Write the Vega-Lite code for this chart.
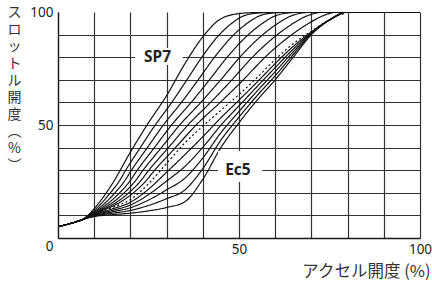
{
"$schema":"https://vega.github.io/schema/vega-lite/v6.json",
"width":362,"height":226,
"autosize":{"type":"none"},
"padding":{"left":58,"top":12,"right":12,"bottom":44},
"config":{"view":{"stroke":null},"font":"Noto Sans"},
"datasets":{
"curves":[
{"s":"D","k":"dashed","x":0,"y":5},{"s":"D","k":"dashed","x":5,"y":7.2},{"s":"D","k":"dashed","x":7,"y":8.3},{"s":"D","k":"dashed","x":10,"y":10.5},{"s":"D","k":"dashed","x":15,"y":13.5},{"s":"D","k":"dashed","x":20,"y":17},{"s":"D","k":"dashed","x":25,"y":24},{"s":"D","k":"dashed","x":30,"y":33},{"s":"D","k":"dashed","x":35,"y":42},{"s":"D","k":"dashed","x":40,"y":49.5},{"s":"D","k":"dashed","x":45,"y":56.5},{"s":"D","k":"dashed","x":50,"y":63.5},{"s":"D","k":"dashed","x":55,"y":71},{"s":"D","k":"dashed","x":60,"y":79},{"s":"D","k":"dashed","x":65,"y":86},{"s":"D","k":"dashed","x":70,"y":91.5},{"s":"D","k":"dashed","x":75,"y":96.5},{"s":"D","k":"dashed","x":80,"y":100},
{"s":"SP7","k":"solid","x":0,"y":5},{"s":"SP7","k":"solid","x":5,"y":7.2},{"s":"SP7","k":"solid","x":7,"y":8.3},{"s":"SP7","k":"solid","x":10,"y":13},{"s":"SP7","k":"solid","x":15,"y":24},{"s":"SP7","k":"solid","x":20,"y":38},{"s":"SP7","k":"solid","x":25,"y":51},{"s":"SP7","k":"solid","x":30,"y":63},{"s":"SP7","k":"solid","x":35,"y":77},{"s":"SP7","k":"solid","x":40,"y":89},{"s":"SP7","k":"solid","x":45,"y":97},{"s":"SP7","k":"solid","x":50,"y":99.3},{"s":"SP7","k":"solid","x":55,"y":99.8},{"s":"SP7","k":"solid","x":60,"y":100},{"s":"SP7","k":"solid","x":100,"y":100},
{"s":"SP1","k":"solid","x":0,"y":5},{"s":"SP1","k":"solid","x":5,"y":7.2},{"s":"SP1","k":"solid","x":7,"y":8.3},{"s":"SP1","k":"solid","x":9.13,"y":10},{"s":"SP1","k":"solid","x":12.06,"y":12},{"s":"SP1","k":"solid","x":16.21,"y":15},{"s":"SP1","k":"solid","x":20.83,"y":20},{"s":"SP1","k":"solid","x":24.14,"y":25},{"s":"SP1","k":"solid","x":26.7,"y":30},{"s":"SP1","k":"solid","x":32.46,"y":40},{"s":"SP1","k":"solid","x":38.14,"y":50},{"s":"SP1","k":"solid","x":44.82,"y":60},{"s":"SP1","k":"solid","x":51.19,"y":70},{"s":"SP1","k":"solid","x":57.21,"y":80},{"s":"SP1","k":"solid","x":64.6,"y":90},{"s":"SP1","k":"solid","x":69.25,"y":95},{"s":"SP1","k":"solid","x":72.73,"y":98},{"s":"SP1","k":"solid","x":75.26,"y":99.5},{"s":"SP1","k":"solid","x":77.1,"y":100},{"s":"SP1","k":"solid","x":100,"y":100},
{"s":"SP2","k":"solid","x":0,"y":5},{"s":"SP2","k":"solid","x":5,"y":7.2},{"s":"SP2","k":"solid","x":7,"y":8.3},{"s":"SP2","k":"solid","x":8.96,"y":10},{"s":"SP2","k":"solid","x":11.61,"y":12},{"s":"SP2","k":"solid","x":15.33,"y":15},{"s":"SP2","k":"solid","x":19.56,"y":20},{"s":"SP2","k":"solid","x":22.69,"y":25},{"s":"SP2","k":"solid","x":25.1,"y":30},{"s":"SP2","k":"solid","x":30.51,"y":40},{"s":"SP2","k":"solid","x":35.89,"y":50},{"s":"SP2","k":"solid","x":42.14,"y":60},{"s":"SP2","k":"solid","x":48.07,"y":70},{"s":"SP2","k":"solid","x":53.71,"y":80},{"s":"SP2","k":"solid","x":60.6,"y":90},{"s":"SP2","k":"solid","x":65,"y":95},{"s":"SP2","k":"solid","x":68.36,"y":98},{"s":"SP2","k":"solid","x":71.21,"y":99.5},{"s":"SP2","k":"solid","x":74.3,"y":100},{"s":"SP2","k":"solid","x":100,"y":100},
{"s":"SP3","k":"solid","x":0,"y":5},{"s":"SP3","k":"solid","x":5,"y":7.2},{"s":"SP3","k":"solid","x":7,"y":8.3},{"s":"SP3","k":"solid","x":8.79,"y":10},{"s":"SP3","k":"solid","x":11.17,"y":12},{"s":"SP3","k":"solid","x":14.44,"y":15},{"s":"SP3","k":"solid","x":18.29,"y":20},{"s":"SP3","k":"solid","x":21.23,"y":25},{"s":"SP3","k":"solid","x":23.5,"y":30},{"s":"SP3","k":"solid","x":28.57,"y":40},{"s":"SP3","k":"solid","x":33.63,"y":50},{"s":"SP3","k":"solid","x":39.46,"y":60},{"s":"SP3","k":"solid","x":44.96,"y":70},{"s":"SP3","k":"solid","x":50.22,"y":80},{"s":"SP3","k":"solid","x":56.6,"y":90},{"s":"SP3","k":"solid","x":60.75,"y":95},{"s":"SP3","k":"solid","x":63.99,"y":98},{"s":"SP3","k":"solid","x":67.17,"y":99.5},{"s":"SP3","k":"solid","x":71.4,"y":100},{"s":"SP3","k":"solid","x":100,"y":100},
{"s":"SP4","k":"solid","x":0,"y":5},{"s":"SP4","k":"solid","x":5,"y":7.2},{"s":"SP4","k":"solid","x":7,"y":8.3},{"s":"SP4","k":"solid","x":8.61,"y":10},{"s":"SP4","k":"solid","x":10.73,"y":12},{"s":"SP4","k":"solid","x":13.56,"y":15},{"s":"SP4","k":"solid","x":17.01,"y":20},{"s":"SP4","k":"solid","x":19.77,"y":25},{"s":"SP4","k":"solid","x":21.9,"y":30},{"s":"SP4","k":"solid","x":26.63,"y":40},{"s":"SP4","k":"solid","x":31.37,"y":50},{"s":"SP4","k":"solid","x":36.79,"y":60},{"s":"SP4","k":"solid","x":41.84,"y":70},{"s":"SP4","k":"solid","x":46.73,"y":80},{"s":"SP4","k":"solid","x":52.6,"y":90},{"s":"SP4","k":"solid","x":56.5,"y":95},{"s":"SP4","k":"solid","x":59.61,"y":98},{"s":"SP4","k":"solid","x":63.13,"y":99.5},{"s":"SP4","k":"solid","x":68.6,"y":100},{"s":"SP4","k":"solid","x":100,"y":100},
{"s":"SP5","k":"solid","x":0,"y":5},{"s":"SP5","k":"solid","x":5,"y":7.2},{"s":"SP5","k":"solid","x":7,"y":8.3},{"s":"SP5","k":"solid","x":8.44,"y":10},{"s":"SP5","k":"solid","x":10.29,"y":12},{"s":"SP5","k":"solid","x":12.67,"y":15},{"s":"SP5","k":"solid","x":15.74,"y":20},{"s":"SP5","k":"solid","x":18.31,"y":25},{"s":"SP5","k":"solid","x":20.3,"y":30},{"s":"SP5","k":"solid","x":24.69,"y":40},{"s":"SP5","k":"solid","x":29.11,"y":50},{"s":"SP5","k":"solid","x":34.11,"y":60},{"s":"SP5","k":"solid","x":38.73,"y":70},{"s":"SP5","k":"solid","x":43.24,"y":80},{"s":"SP5","k":"solid","x":48.6,"y":90},{"s":"SP5","k":"solid","x":52.25,"y":95},{"s":"SP5","k":"solid","x":55.24,"y":98},{"s":"SP5","k":"solid","x":59.09,"y":99.5},{"s":"SP5","k":"solid","x":65.7,"y":100},{"s":"SP5","k":"solid","x":100,"y":100},
{"s":"SP6","k":"solid","x":0,"y":5},{"s":"SP6","k":"solid","x":5,"y":7.2},{"s":"SP6","k":"solid","x":7,"y":8.3},{"s":"SP6","k":"solid","x":8.27,"y":10},{"s":"SP6","k":"solid","x":9.84,"y":12},{"s":"SP6","k":"solid","x":11.79,"y":15},{"s":"SP6","k":"solid","x":14.47,"y":20},{"s":"SP6","k":"solid","x":16.86,"y":25},{"s":"SP6","k":"solid","x":18.7,"y":30},{"s":"SP6","k":"solid","x":22.74,"y":40},{"s":"SP6","k":"solid","x":26.86,"y":50},{"s":"SP6","k":"solid","x":31.43,"y":60},{"s":"SP6","k":"solid","x":35.61,"y":70},{"s":"SP6","k":"solid","x":39.74,"y":80},{"s":"SP6","k":"solid","x":44.6,"y":90},{"s":"SP6","k":"solid","x":48,"y":95},{"s":"SP6","k":"solid","x":50.87,"y":98},{"s":"SP6","k":"solid","x":55.04,"y":99.5},{"s":"SP6","k":"solid","x":62.9,"y":100},{"s":"SP6","k":"solid","x":100,"y":100},
{"s":"Ec1","k":"solid","x":0,"y":5},{"s":"Ec1","k":"solid","x":5,"y":7.2},{"s":"Ec1","k":"solid","x":7,"y":8.3},{"s":"Ec1","k":"solid","x":10,"y":10.3},{"s":"Ec1","k":"solid","x":15,"y":12.86},{"s":"Ec1","k":"solid","x":20,"y":15.8},{"s":"Ec1","k":"solid","x":25,"y":21.6},{"s":"Ec1","k":"solid","x":30,"y":29.1},{"s":"Ec1","k":"solid","x":35,"y":36.8},{"s":"Ec1","k":"solid","x":40,"y":44.8},{"s":"Ec1","k":"solid","x":45,"y":53.2},{"s":"Ec1","k":"solid","x":50,"y":61},{"s":"Ec1","k":"solid","x":55,"y":69},{"s":"Ec1","k":"solid","x":60,"y":77.2},{"s":"Ec1","k":"solid","x":65,"y":84.8},{"s":"Ec1","k":"solid","x":70,"y":91.2},{"s":"Ec1","k":"solid","x":75,"y":96.5},{"s":"Ec1","k":"solid","x":80,"y":100},{"s":"Ec1","k":"solid","x":100,"y":100},
{"s":"Ec2","k":"solid","x":0,"y":5},{"s":"Ec2","k":"solid","x":5,"y":7.2},{"s":"Ec2","k":"solid","x":7,"y":8.3},{"s":"Ec2","k":"solid","x":10,"y":10.1},{"s":"Ec2","k":"solid","x":15,"y":12.22},{"s":"Ec2","k":"solid","x":20,"y":14.6},{"s":"Ec2","k":"solid","x":25,"y":19.2},{"s":"Ec2","k":"solid","x":30,"y":25.2},{"s":"Ec2","k":"solid","x":35,"y":31.6},{"s":"Ec2","k":"solid","x":40,"y":40.1},{"s":"Ec2","k":"solid","x":45,"y":49.9},{"s":"Ec2","k":"solid","x":50,"y":58.5},{"s":"Ec2","k":"solid","x":55,"y":67},{"s":"Ec2","k":"solid","x":60,"y":75.4},{"s":"Ec2","k":"solid","x":65,"y":83.6},{"s":"Ec2","k":"solid","x":70,"y":90.9},{"s":"Ec2","k":"solid","x":75,"y":96.5},{"s":"Ec2","k":"solid","x":80,"y":100},{"s":"Ec2","k":"solid","x":100,"y":100},
{"s":"Ec3","k":"solid","x":0,"y":5},{"s":"Ec3","k":"solid","x":5,"y":7.2},{"s":"Ec3","k":"solid","x":7,"y":8.3},{"s":"Ec3","k":"solid","x":10,"y":9.9},{"s":"Ec3","k":"solid","x":15,"y":11.58},{"s":"Ec3","k":"solid","x":20,"y":13.4},{"s":"Ec3","k":"solid","x":25,"y":16.8},{"s":"Ec3","k":"solid","x":30,"y":21.3},{"s":"Ec3","k":"solid","x":35,"y":26.4},{"s":"Ec3","k":"solid","x":40,"y":35.4},{"s":"Ec3","k":"solid","x":45,"y":46.6},{"s":"Ec3","k":"solid","x":50,"y":56},{"s":"Ec3","k":"solid","x":55,"y":65},{"s":"Ec3","k":"solid","x":60,"y":73.6},{"s":"Ec3","k":"solid","x":65,"y":82.4},{"s":"Ec3","k":"solid","x":70,"y":90.6},{"s":"Ec3","k":"solid","x":75,"y":96.5},{"s":"Ec3","k":"solid","x":80,"y":100},{"s":"Ec3","k":"solid","x":100,"y":100},
{"s":"Ec4","k":"solid","x":0,"y":5},{"s":"Ec4","k":"solid","x":5,"y":7.2},{"s":"Ec4","k":"solid","x":7,"y":8.3},{"s":"Ec4","k":"solid","x":10,"y":9.7},{"s":"Ec4","k":"solid","x":15,"y":10.94},{"s":"Ec4","k":"solid","x":20,"y":12.2},{"s":"Ec4","k":"solid","x":25,"y":14.4},{"s":"Ec4","k":"solid","x":30,"y":17.4},{"s":"Ec4","k":"solid","x":35,"y":21.2},{"s":"Ec4","k":"solid","x":40,"y":30.7},{"s":"Ec4","k":"solid","x":45,"y":43.3},{"s":"Ec4","k":"solid","x":50,"y":53.5},{"s":"Ec4","k":"solid","x":55,"y":63},{"s":"Ec4","k":"solid","x":60,"y":71.8},{"s":"Ec4","k":"solid","x":65,"y":81.2},{"s":"Ec4","k":"solid","x":70,"y":90.3},{"s":"Ec4","k":"solid","x":75,"y":96.5},{"s":"Ec4","k":"solid","x":80,"y":100},{"s":"Ec4","k":"solid","x":100,"y":100},
{"s":"Ec5","k":"solid","x":0,"y":5},{"s":"Ec5","k":"solid","x":5,"y":7.2},{"s":"Ec5","k":"solid","x":7,"y":8.3},{"s":"Ec5","k":"solid","x":10,"y":9.5},{"s":"Ec5","k":"solid","x":15,"y":10.3},{"s":"Ec5","k":"solid","x":20,"y":11},{"s":"Ec5","k":"solid","x":25,"y":12},{"s":"Ec5","k":"solid","x":30,"y":13.5},{"s":"Ec5","k":"solid","x":35,"y":16},{"s":"Ec5","k":"solid","x":40,"y":26},{"s":"Ec5","k":"solid","x":45,"y":40},{"s":"Ec5","k":"solid","x":50,"y":51},{"s":"Ec5","k":"solid","x":55,"y":61},{"s":"Ec5","k":"solid","x":60,"y":70},{"s":"Ec5","k":"solid","x":65,"y":80},{"s":"Ec5","k":"solid","x":70,"y":90},{"s":"Ec5","k":"solid","x":75,"y":96.5},{"s":"Ec5","k":"solid","x":80,"y":100},{"s":"Ec5","k":"solid","x":100,"y":100}
],
"boxes":[{"x":21.3,"xe":34.5,"y":76.5,"ye":84.1},{"x":44.2,"xe":56.4,"y":24.8,"ye":38.5}],
"labels":[{"t":"SP7","x":27.5,"y":79.9},{"t":"Ec5","x":49.7,"y":29.9}]
},
"encoding":{
"x":{"field":"x","type":"quantitative","scale":{"domain":[0,100],"nice":false},
"axis":{"values":[0,10,20,30,40,50,60,70,80,90,100],"labelExpr":"datum.value == 50 || datum.value == 100 ? datum.label : ''","ticks":false,"labelFlush":false,"labelOverlap":false,"labelFontSize":13.5,"labelColor":"#231f20","labelPadding":4,"domainColor":"#1a1a1a","domainWidth":1.3,"gridColor":"#333333","gridWidth":1.2,"gridOpacity":1,
"title":"アクセル開度 (%)","titleFont":"Noto Sans CJK JP","titleFontWeight":"normal","titleFontSize":16.5,"titleColor":"#333333","titleX":372,"titleY":33,"titleAlign":"right","titleBaseline":"middle","titleAnchor":"end"}},
"y":{"field":"y","type":"quantitative","scale":{"domain":[0,100],"nice":false},
"axis":{"values":[0,10,20,30,40,50,60,70,80,90,100],"labelExpr":"datum.value % 50 == 0 ? datum.label : ''","ticks":false,"labelOverlap":false,"labelFontSize":13.5,"labelColor":"#231f20","labelPadding":5,"labelOffset":{"condition":{"test":"datum.value == 0","value":8},"value":0},"domainColor":"#1a1a1a","domainWidth":1.3,"gridColor":"#333333","gridWidth":1.2,"gridOpacity":{"condition":{"test":"datum.value == 100","value":0},"value":1},
"title":["ス","ロ","ッ","ト","ル","開","度","︵","%","︶"],"titleAngle":0,"titleFont":"Noto Sans CJK JP","titleFontWeight":"normal","titleFontSize":14,"titleLineHeight":17,"titleColor":"#333333","titleX":-44,"titleY":-7,"titleAlign":"center","titleBaseline":"top","titleAnchor":"start"}}
},
"layer":[
{"data":{"name":"curves"},
"mark":{"type":"line","interpolate":"monotone","color":"#111111","strokeWidth":1.2,"clip":true},
"encoding":{
"detail":{"field":"s"},
"strokeDash":{"field":"k","type":"nominal","scale":{"domain":["solid","dashed"],"range":[[1,0],[2,2.5]]},"legend":null}
}},
{"data":{"name":"boxes"},"mark":{"type":"rect","fill":"white"},
"encoding":{"x2":{"field":"xe"},"y2":{"field":"ye"}}},
{"data":{"name":"labels"},"mark":{"type":"text","font":"Noto Sans","fontWeight":"bold","fontSize":15.5,"color":"#231f20","align":"center","baseline":"middle"},
"encoding":{"text":{"field":"t"}}}
]
}
